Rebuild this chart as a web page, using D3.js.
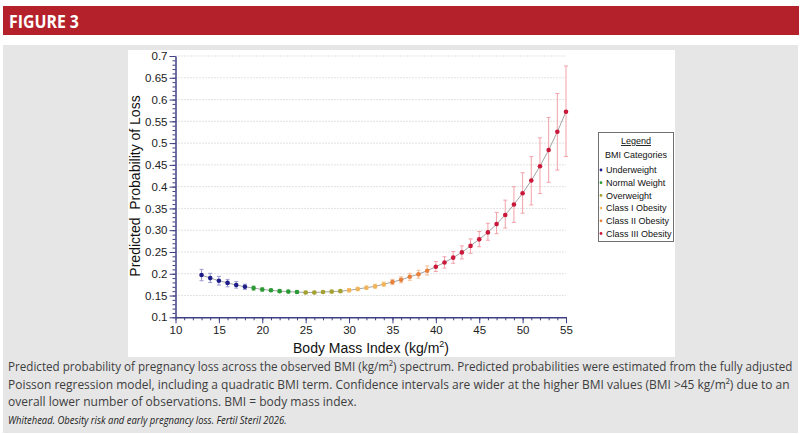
<!DOCTYPE html>
<html>
<head>
<meta charset="utf-8">
<script src="https://cdn.jsdelivr.net/npm/d3@7"></script>
<style>
  body { margin: 0; background: #fff; }
  svg { display: block; }
</style>
</head>
<body>
<div id="chart"></div>
<script>
// BMI values (one point per integer BMI)
const bmi = [13, 14, 15, 16, 17, 18, 19, 20, 21, 22, 23, 24, 25, 26, 27, 28, 29, 30,
  31, 32, 33, 34, 35, 36, 37, 38, 39, 40, 41, 42, 43, 44, 45, 46, 47, 48, 49, 50,
  51, 52, 53, 54, 55];
const prob = [0.197, 0.190, 0.184, 0.179, 0.174, 0.170, 0.167, 0.164, 0.162, 0.160,
  0.159, 0.158, 0.157, 0.157, 0.158, 0.159, 0.160, 0.162, 0.165, 0.168, 0.171, 0.176,
  0.181, 0.186, 0.193, 0.199, 0.207, 0.216, 0.226, 0.237, 0.249, 0.264, 0.279, 0.295,
  0.314, 0.335, 0.359, 0.385, 0.414, 0.447, 0.484, 0.526, 0.572];
const lower = [0.184, 0.180, 0.174, 0.170, 0.167, 0.164, 0.162, 0.160, 0.159, 0.157,
  0.156, 0.155, 0.154, 0.154, 0.155, 0.156, 0.157, 0.158, 0.161, 0.164, 0.167, 0.171,
  0.175, 0.179, 0.185, 0.190, 0.197, 0.205, 0.213, 0.224, 0.234, 0.247, 0.262, 0.277,
  0.292, 0.305, 0.318, 0.339, 0.358, 0.384, 0.410, 0.438, 0.469];
const upper = [0.210, 0.201, 0.194, 0.187, 0.182, 0.176, 0.172, 0.168, 0.165, 0.163,
  0.162, 0.161, 0.160, 0.160, 0.161, 0.162, 0.163, 0.166, 0.169, 0.172, 0.176, 0.181,
  0.187, 0.193, 0.201, 0.208, 0.218, 0.228, 0.239, 0.251, 0.264, 0.280, 0.297, 0.316,
  0.341, 0.369, 0.400, 0.432, 0.469, 0.512, 0.559, 0.614, 0.677];

const categories = ["Underweight", "Normal Weight", "Overweight", "Class I Obesity",
  "Class II Obesity", "Class III Obesity"];
const catCuts = [18.5, 25, 30, 35, 40];   // WHO cut-offs between the categories
const catColors = ["#1c1c8a", "#2a9a34", "#a3a132", "#f0b45a", "#e6803a", "#c9183a"];
const barColors = ["#9a9ad0", "#9ccf9c", "#d3d08e", "#f6d5a5", "#f3bd96", "#f2a2aa"];

const yTicks = [0.1, 0.15, 0.2, 0.25, 0.3, 0.35, 0.4, 0.45, 0.5, 0.55, 0.6, 0.65, 0.7];
const yTickLabels = ["0.1", "0.15", "0.2", "0.25", "0.30", "0.35", "0.4", "0.45", "0.5",
  "0.55", "0.6", "0.65", "0.7"];
const xTicks = [10, 15, 20, 25, 30, 35, 40, 45, 50, 55];

const captionLines = [
  "Predicted probability of pregnancy loss across the observed BMI (kg/m²) spectrum. Predicted probabilities were estimated from the fully adjusted",
  "Poisson regression model, including a quadratic BMI term. Confidence intervals are wider at the higher BMI values (BMI >45 kg/m²) due to an",
  "overall lower number of observations. BMI = body mass index."
];
const captionWidths = [785, 782, 349];
const sourceLine = "Whitehead. Obesity risk and early pregnancy loss. Fertil Steril 2026.";

const width = 800, height = 434;
const axisCol = "#3f3f86";

const data = bmi.map((b, i) => ({
  bmi: b, p: prob[i], lo: lower[i], hi: upper[i],
  cat: d3.bisect(catCuts, b)
}));

const svg = d3.select("#chart").append("svg")
  .attr("width", width).attr("height", height)
  .attr("viewBox", [0, 0, width, height]);

// squeeze a text horizontally to a given width (the original uses a condensed face)
function fitWidth(sel, x0, w) {
  sel.each(function () {
    const n = this.getComputedTextLength();
    const k = w / n;
    d3.select(this).attr("x", 0)
      .attr("transform", `translate(${x0},${this.getAttribute("y")}) scale(${k},1)`)
      .attr("y", 0);
  });
}

// header band
svg.append("rect").attr("x", 3).attr("y", 6).attr("width", 796).attr("height", 29)
  .attr("fill", "#b5212b");
svg.append("text").attr("y", 27.5)
  .attr("font-family", "Open Sans, sans-serif").attr("font-weight", "bold")
  .attr("font-size", 18).attr("fill", "#fff")
  .text("FIGURE 3")
  .call(fitWidth, 9, 70);

// grey panel + white chart area
svg.append("rect").attr("x", 3).attr("y", 45).attr("width", 795).attr("height", 388)
  .attr("fill", "#e6e6e6");
svg.append("rect").attr("x", 128).attr("y", 50).attr("width", 547).attr("height", 307)
  .attr("fill", "#fff");

let x = d3.scaleLinear().domain([10, 55]).range([175.5, 566]);
let y = d3.scaleLinear().domain([0.1, 0.7]).range([317.3, 56]);

// dotted grid
svg.append("g").selectAll("line")
  .data(yTicks.slice(1))
  .join("line")
  .attr("x1", x(10)).attr("x2", x(55))
  .attr("y1", d => y(d)).attr("y2", d => y(d))
  .attr("stroke", "#b8b8b8").attr("stroke-width", 0.8)
  .attr("stroke-dasharray", "1,2");

// axes
const yMinor = d3.range(10, 71).map(d => d / 100);
const xMinor = d3.range(10, 56);

svg.append("g")
  .attr("transform", `translate(${x(10)},0)`)
  .call(d3.axisLeft(y).tickValues(yMinor).tickSize(3).tickFormat("").tickSizeOuter(0))
  .call(g => g.select(".domain").remove())
  .call(g => g.selectAll("line").attr("stroke", axisCol));

svg.append("g")
  .attr("transform", `translate(${x(10)},0)`)
  .call(d3.axisLeft(y).tickValues(yTicks).tickSize(6).tickPadding(2)
    .tickFormat((d, i) => yTickLabels[i]).tickSizeOuter(0))
  .call(g => g.select(".domain").attr("stroke", axisCol).attr("stroke-width", 1.5))
  .call(g => g.selectAll("line").attr("stroke", axisCol))
  .call(g => g.selectAll("text").attr("fill", "#222").attr("font-size", 11.5)
    .attr("font-family", "Liberation Sans, Arial, sans-serif"));

svg.append("g")
  .attr("transform", `translate(0,${y(0.1)})`)
  .call(d3.axisBottom(x).tickValues(xMinor).tickSize(3).tickFormat("").tickSizeOuter(0))
  .call(g => g.select(".domain").remove())
  .call(g => g.selectAll("line").attr("stroke", axisCol));

svg.append("g")
  .attr("transform", `translate(0,${y(0.1)})`)
  .call(d3.axisBottom(x).tickValues(xTicks).tickSize(6).tickPadding(3).tickSizeOuter(0))
  .call(g => g.select(".domain").attr("stroke", axisCol).attr("stroke-width", 1.5))
  .call(g => g.selectAll("line").attr("stroke", axisCol))
  .call(g => g.selectAll("text").attr("fill", "#222").attr("font-size", 11.5)
    .attr("font-family", "Liberation Sans, Arial, sans-serif"));

// axis titles
svg.append("text")
  .attr("transform", `translate(140,186) rotate(-90)`)
  .attr("text-anchor", "middle")
  .attr("font-family", "Liberation Sans, Arial, sans-serif").attr("font-size", 14)
  .attr("fill", "#111")
  .attr("xml:space", "preserve")
  .text("Predicted  Probability of Loss");

const xt = svg.append("text")
  .attr("x", 371).attr("y", 353)
  .attr("text-anchor", "middle")
  .attr("font-family", "Liberation Sans, Arial, sans-serif").attr("font-size", 14)
  .attr("fill", "#111");
xt.append("tspan").text("Body Mass Index (kg/m");
xt.append("tspan").attr("font-size", 9).attr("dy", -6).text("2");
xt.append("tspan").attr("dy", 6).text(")");

// connecting line
svg.append("path")
  .datum(data)
  .attr("fill", "none").attr("stroke", "#8c8c8c").attr("stroke-width", 0.8)
  .attr("d", d3.line().x(d => x(d.bmi)).y(d => y(d.p)));

// error bars
let eb = svg.append("g").selectAll(".eb")
  .data(data)
  .join("g")
  .attr("class", "eb")
  .attr("stroke", d => barColors[d.cat])
  .attr("stroke-width", 1);

eb.append("line")
  .attr("x1", d => x(d.bmi)).attr("x2", d => x(d.bmi))
  .attr("y1", d => y(d.lo)).attr("y2", d => y(d.hi));
eb.append("line")
  .attr("x1", d => x(d.bmi) - 2).attr("x2", d => x(d.bmi) + 2)
  .attr("y1", d => y(d.lo)).attr("y2", d => y(d.lo));
eb.append("line")
  .attr("x1", d => x(d.bmi) - 2).attr("x2", d => x(d.bmi) + 2)
  .attr("y1", d => y(d.hi)).attr("y2", d => y(d.hi));

// points
svg.append("g").selectAll("circle")
  .data(data)
  .join("circle")
  .attr("cx", d => x(d.bmi)).attr("cy", d => y(d.p))
  .attr("r", 2.3)
  .attr("fill", d => catColors[d.cat]);

// legend
const lg = svg.append("g").attr("font-family", "Liberation Sans, Arial, sans-serif")
  .attr("font-size", 9).attr("fill", "#111");
lg.append("rect").attr("x", 598.5).attr("y", 132.5).attr("width", 75).attr("height", 109)
  .attr("fill", "#fff").attr("stroke", "#707070");
lg.append("text").attr("x", 636).attr("y", 144).attr("text-anchor", "middle")
  .attr("text-decoration", "underline").text("Legend");
lg.append("text").attr("x", 636).attr("y", 158).attr("text-anchor", "middle")
  .text("BMI Categories");
let item = lg.selectAll(".item")
  .data(categories)
  .join("g")
  .attr("class", "item")
  .attr("transform", (d, i) => `translate(601,${170 + i * 12.7})`);
item.append("circle").attr("r", 1.4).attr("fill", (d, i) => catColors[i]);
item.append("text").attr("x", 5).attr("y", 3.3).text(d => d);

// caption
const cap = svg.append("g").attr("font-family", "Open Sans, sans-serif")
  .attr("fill", "#3e3e3e");
captionLines.forEach((t, i) => {
  cap.append("text").attr("y", 371 + i * 17.7).attr("font-size", 13)
    .text(t)
    .call(fitWidth, 8, captionWidths[i]);
});
cap.append("text").attr("y", 424).attr("font-size", 10)
  .attr("font-style", "italic").attr("fill", "#222")
  .text(sourceLine)
  .call(fitWidth, 8, 279);
</script>
</body>
</html>
